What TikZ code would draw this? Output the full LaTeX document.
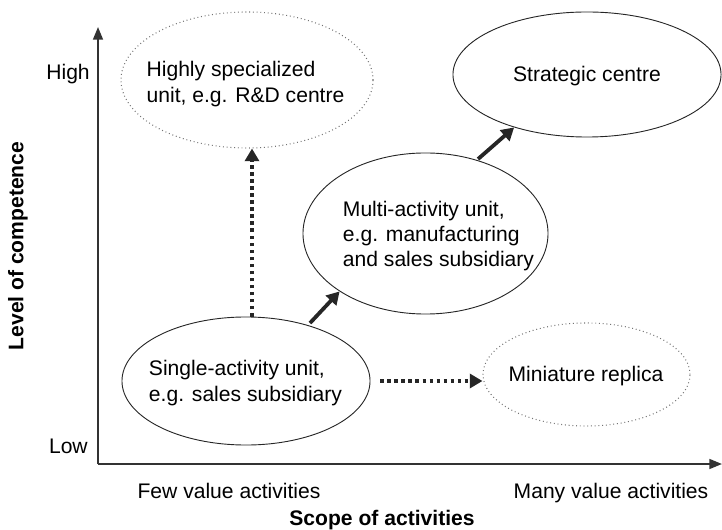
\documentclass[tikz,border=0pt]{standalone}
\usepackage{fontspec}
\setmainfont{Liberation Sans}
\usetikzlibrary{shapes.geometric,arrows.meta}

\begin{document}
\begin{tikzpicture}[x=0.025cm,y=-0.025cm,
    unit/.style={ellipse,draw=black!85,line width=0.65pt,inner sep=0pt},
    weak unit/.style={unit,draw=black!55,dotted,line width=0.75pt},
    txt/.style={align=left,inner sep=0pt,font=\fontsize{15}{18}\selectfont},
    axis/.style={line width=1.4pt,draw=black!80,-{Triangle[length=9pt,width=7pt]}},
    move/.style={line width=2.7pt,draw=black!85,-{Triangle[length=9pt,width=10pt]}},
    weak move/.style={move,dash pattern=on 2.6pt off 2.4pt}]

  \useasboundingbox (0,0) rectangle (722,530);

  % axes
  \coordinate (O) at (98,464);
  \coordinate (ytop) at (98,27);
  \coordinate (xend) at (722,464);
  \draw[axis] (O) -- (ytop);
  \draw[axis] (O) -- (xend);

  \node[txt,anchor=base east] (high) at (90,80) {High};
  \node[txt,anchor=base east] (low) at (88,453) {Low};
  \node[txt,anchor=base] (few) at (229,498) {Few value activities};
  \node[txt,anchor=base] (many) at (611,498) {Many value activities};
  \node[txt,anchor=base,font=\fontsize{15}{18}\selectfont\bfseries] (xlab) at (382,525) {Scope of activities};
  \node[txt,font=\fontsize{15}{18}\selectfont\bfseries,rotate=90] (ylab) at (18,246) {Level of competence};

  % the five kinds of unit
  \node[weak unit,minimum width=6.3cm,minimum height=3.4cm] (spec) at (247,80) {};
  \node[unit,minimum width=6.7cm,minimum height=3.125cm] (strat) at (587,74.5) {};
  \node[unit,minimum width=6.125cm,minimum height=4.025cm] (multi) at (425.5,233.5) {};
  \node[unit,minimum width=6.2cm,minimum height=3.2cm] (single) at (246,381) {};
  \node[weak unit,minimum width=5.175cm,minimum height=2.575cm] (mini) at (586.5,374.5) {};

  \node[txt] (spectxt) at (245.5,84) {Highly specialized\\unit, e.g. R\&D centre};
  \node[txt,anchor=base] (strattxt) at (587,82) {Strategic centre};
  \node[txt] (multitxt) at (438.5,236) {Multi-activity unit,\\e.g. manufacturing\\and sales subsidiary};
  \node[txt] (singletxt) at (245.5,383) {Single-activity unit,\\e.g. sales subsidiary};
  \node[txt,anchor=base] (minitxt) at (586,382) {Miniature replica};

  % development paths
  \coordinate (vx) at (252,0);
  \draw[weak move] (vx |- single.north) -- (vx |- spec.south);
  \draw[move,shorten <=2pt] (single.42) -- (multi.214);
  \draw[move,shorten <=1pt] (multi.55) -- (strat.216);
  \draw[weak move,shorten <=7pt] (single.east) -- (single.east -| mini.west);

\end{tikzpicture}
\end{document}
